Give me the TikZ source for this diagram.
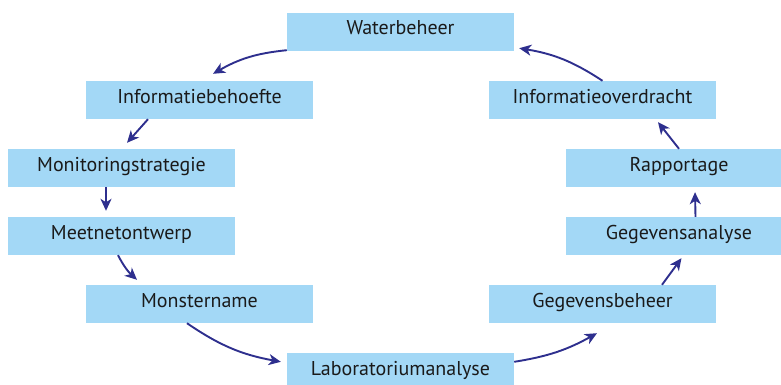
\documentclass[tikz,border=0pt]{standalone}
\usepackage{fontspec}
\setmainfont{PT Sans}
\usetikzlibrary{arrows.meta}
\definecolor{boxblue}{HTML}{A3D8F6}
\definecolor{flowblue}{HTML}{2E2F8E}
\definecolor{labeltext}{HTML}{1A1A1A}
\tikzset{
  stage/.style={fill=boxblue, draw=none, minimum width=227pt, minimum height=38pt,
    inner sep=0pt, text height=12pt, text depth=6pt, text=labeltext,
    font=\fontsize{20}{22}\selectfont},
  flow/.style={draw=flowblue, line width=1.9pt,
    -{Stealth[length=12pt,width=11pt,inset=3.5pt]}},
}
\begin{document}
\begin{tikzpicture}[x=1pt,y=1pt]
\useasboundingbox (0,-385) rectangle (781,0);
\clip (0,-385) rectangle (781,0);
% stages of the monitoring cycle
\node[stage] (wb)  at (400.5,-32)  {Waterbeheer};
\node[stage] (ib)  at (199.5,-100) {Informatiebehoefte};
\node[stage] (ms)  at (121.5,-168) {Monitoringstrategie};
\node[stage] (mn)  at (121.5,-236) {Meetnetontwerp};
\node[stage] (mo)  at (199.5,-304) {Monstername};
\node[stage] (lab) at (400.5,-372) {Laboratoriumanalyse};
\node[stage] (gb)  at (602.5,-304) {Gegevensbeheer};
\node[stage] (ga)  at (679,-236)   {Gegevensanalyse};
\node[stage] (rp)  at (679,-168)   {Rapportage};
\node[stage] (io)  at (602.5,-100) {Informatieoverdracht};
% arrows running round the cycle
\draw[flow] ([yshift=1pt]wb.south west) to[bend right=12] ([xshift=13.5pt,yshift=7pt]ib.north);
\draw[flow] ([xshift=-51.5pt]ib.south) to ([xshift=5.5pt,yshift=6pt]ms.north);
\draw[flow] ([xshift=-15.5pt]ms.south) to ([xshift=-15.5pt,yshift=6pt]mn.north);
\draw[flow] ([xshift=-3.5pt]mn.south) to[bend right=10] ([xshift=-62.5pt,yshift=5pt]mo.north);
\draw[flow] ([xshift=-12.5pt]mo.south) to[bend right=12] ([xshift=-6pt,yshift=-9pt]lab.north west);
\draw[flow] ([yshift=-9pt]lab.north east) to[bend right=10] ([xshift=-5.5pt,yshift=-10pt]gb.south);
\draw[flow] ([xshift=59.5pt]gb.north) to ([xshift=2.5pt,yshift=-3pt]ga.south);
\draw[flow] ([xshift=16.5pt]ga.north) to ([xshift=16pt,yshift=-5pt]rp.south);
\draw[flow] (rp.north) to ([xshift=55.5pt,yshift=-3pt]io.south);
\draw[flow] (io.north) to[bend right=12] ([xshift=5pt,yshift=3pt]wb.south east);
\end{tikzpicture}
\end{document}
